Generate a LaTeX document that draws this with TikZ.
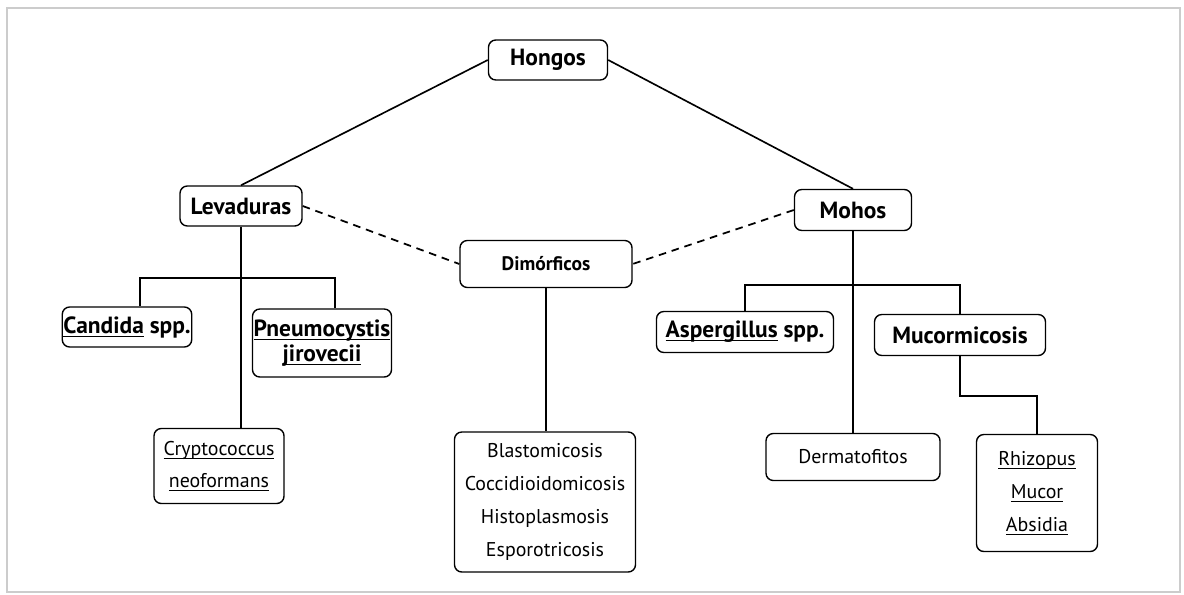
\documentclass[tikz,border=0pt]{standalone}
\usepackage{fontspec}
\setmainfont{PT Sans}
\usetikzlibrary{calc}

\newcommand{\ulw}[1]{\setbox0\hbox{#1}\rlap{\rule[-3pt]{\wd0}{0.8pt}}\box0\relax}

\begin{document}
\begin{tikzpicture}[x=0.03cm,y=-0.03cm,
  box/.style={draw,line width=1.2pt,rounded corners=0.22cm,align=center,inner sep=1pt},
  bd/.style={font=\fontsize{20}{25}\selectfont\bfseries},
  rg/.style={font=\fontsize{17}{28}\selectfont},
  link/.style={line width=1.4pt},
  dotlink/.style={line width=1.5pt,dash pattern=on 6.5pt off 5pt}]
\useasboundingbox(0,0)rectangle(1184,595);
\draw[gray!40,line width=1.5pt](7,8)rectangle(1180,592);
% top levels
\draw(548,60)node[box,bd,minimum width=3.57cm,minimum height=1.2cm](hongos){Hongos};
\draw(241,206)node[box,bd,minimum width=3.66cm,minimum height=1.2cm](lev){Levaduras};
\draw(853,210)node[box,bd,minimum width=3.51cm,minimum height=1.23cm](mohos){Mohos};
\draw(546,264)node[box,font=\fontsize{16.7}{20}\selectfont\bfseries,minimum width=5.16cm,minimum height=1.41cm](dimo){Dimórficos};
% levaduras
\draw(127,327)node[box,bd,minimum width=3.63cm,minimum height=1.2cm](candida){\ulw{Candida} spp.};
\draw(322,343)node[box,bd,font=\fontsize{20}{22}\selectfont\bfseries,minimum width=3.81cm,minimum height=2.04cm](pneumo){\ulw{Pneumocystis}\\\ulw{jirovecii}};
\draw(219,466)node[box,rg,font=\fontsize{17}{27}\selectfont,minimum width=3.9cm,minimum height=2.25cm](crypto){\ulw{Cryptococcus}\\\ulw{neoformans}};
% dimorficos
\draw(545,502)node[box,rg,minimum width=5.43cm,minimum height=4.2cm](lista){Blastomicosis\\Coccidioidomicosis\\Histoplasmosis\\Esporotricosis};
% mohos
\draw(745,332)node[box,bd,minimum width=5.31cm,minimum height=1.23cm](asper){\ulw{Aspergillus} spp.};
\draw(960,335)node[box,bd,minimum width=5.13cm,minimum height=1.23cm](mucor){Mucormicosis};
\draw(853,457)node[box,rg,minimum width=5.22cm,minimum height=1.41cm](derma){Dermatofitos};
\draw(1037,493)node[box,rg,minimum width=3.63cm,minimum height=3.51cm](rhizo){\ulw{Rhizopus}\\\ulw{Mucor}\\\ulw{Absidia}};
% lines
\draw[link](hongos.west)--(lev.north);
\draw[link](hongos.east)--(mohos.north);
\draw[dotlink](lev.east)--(dimo.west);
\draw[dotlink](mohos.west)--(dimo.east);
\coordinate(lbar) at (241,278);
\coordinate(mbar) at (853,285);
\draw[link](lev.south)--(lev.south|-crypto.north);
\draw[link]([xshift=0.39cm]candida.north)|-(lbar)-|([xshift=0.39cm]pneumo.north);
\draw[link](dimo.south)--(dimo.south|-lista.north);
\draw[link](mohos.south)--(derma.north);
\draw[link](asper.north)|-(mbar)-|(mucor.north);
\draw[link](mucor.south)--++(0,40)-|(rhizo.north);
\end{tikzpicture}
\end{document}
